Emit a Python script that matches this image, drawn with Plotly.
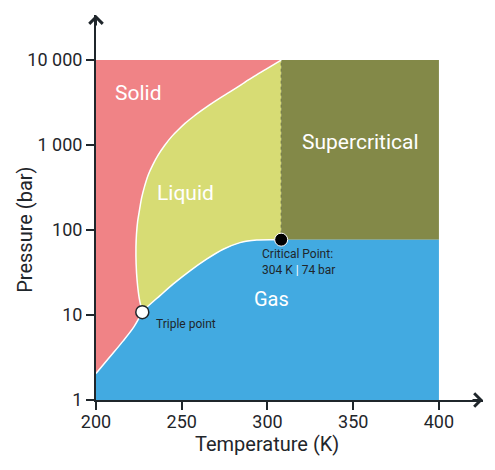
import plotly.graph_objects as go

# phase boundary curves (T in K, P in bar)
sub_T = [200, 208, 216, 222, 227]
sub_P = [2.05, 3.2, 5.0, 7.2, 10.8]

vap_T = [227, 229.6, 237.3, 245.1, 254.8, 264.5, 274.2, 284, 293.7, 303.4, 308]
vap_P = [10.8, 12.3, 16.9, 23.2, 33.1, 45.4, 59.4, 71.1, 76.4, 77, 77]

melt_T = [227.0, 225.2, 224.0, 223.4, 223.3, 223.6, 224.3, 225.4, 226.6, 228.4,
          230.5, 233.2, 236.3, 240.0, 244.1, 248.0, 251.9, 256.5, 260.6, 266,
          272, 278.1, 285, 291.7, 299, 308]
melt_P = [10.8, 15.8, 25.1, 39.8, 63.1, 89.1, 127, 174, 239, 331,
          448, 589, 767, 989, 1256, 1514, 1799, 2138, 2466, 2951,
          3548, 4227, 5188, 6324, 7762, 10000]

triple = (227, 10.8)
critical = (308, 77)
T_min, T_max = 200, 400
P_min, P_max = 1, 10000

y_ticks = [1, 10, 100, 1000, 10000]
y_ticktext = ["1", "10", "100", "1 000", "10 000"]
x_ticks = [200, 250, 300, 350, 400]

SOLID = "#F08386"
LIQUID = "#D7DC74"
SUPER = "#838948"
GAS = "#42AAE1"
INK = "#1f262b"
FONT = "Roboto"

fig = go.Figure()


def region(xs, ys, color):
    fig.add_trace(go.Scatter(x=xs, y=ys, mode="lines", fill="toself",
                             fillcolor=color, line=dict(width=0, color=color),
                             hoverinfo="skip", showlegend=False))


# solid
region([T_min, critical[0]] + melt_T[::-1] + sub_T[::-1],
       [P_max, P_max] + melt_P[::-1] + sub_P[::-1], SOLID)
# liquid
region(melt_T + [critical[0]] + vap_T[::-1],
       melt_P + [critical[1]] + vap_P[::-1], LIQUID)
# supercritical
region([critical[0], T_max, T_max, critical[0]],
       [critical[1], critical[1], P_max, P_max], SUPER)
# gas
region([T_min] + sub_T + vap_T + [T_max, T_max],
       [P_min] + sub_P + vap_P + [critical[1], P_min], GAS)

# white boundary lines
for xs, ys in [(sub_T, sub_P), (vap_T, vap_P), (melt_T, melt_P)]:
    fig.add_trace(go.Scatter(x=xs, y=ys, mode="lines",
                             line=dict(color="white", width=1.5, shape="spline", smoothing=0.8),
                             hoverinfo="skip", showlegend=False))

# dotted border liquid / supercritical
fig.add_trace(go.Scatter(x=[critical[0], critical[0]], y=[critical[1], P_max],
                         mode="lines", line=dict(color="#6c7240", width=1, dash="dot"),
                         hoverinfo="skip", showlegend=False))

# points
fig.add_trace(go.Scatter(x=[triple[0]], y=[triple[1]], mode="markers",
                         marker=dict(size=13, color="white", line=dict(color=INK, width=1.5)),
                         hoverinfo="skip", showlegend=False))
fig.add_trace(go.Scatter(x=[critical[0]], y=[critical[1]], mode="markers",
                         marker=dict(size=13, color="black", line=dict(color="white", width=1)),
                         hoverinfo="skip", showlegend=False))

labels = [
    ("Solid", 224.5, 3.614, 21),
    ("Liquid", 252, 2.433, 21),
    ("Supercritical", 354, 3.04, 21),
    ("Gas", 302.6, 1.19, 20),
]
for text, x, ly, size in labels:
    fig.add_annotation(x=x, y=ly, text=text, showarrow=False,
                       font=dict(family=FONT, size=size, color="white"))

fig.add_annotation(x=295.5, y=1.62, xanchor="left", align="left", showarrow=False,
                   text="Critical Point:<br>304 K <span style='color:white'>|</span> 74 bar",
                   font=dict(family=FONT, size=12, color=INK))
fig.add_annotation(x=233.8, y=0.9, xanchor="left", showarrow=False,
                   text="Triple point", font=dict(family=FONT, size=12, color=INK))

# axis titles
fig.add_annotation(x=300, yref="paper", y=-0.113, yanchor="middle", text="Temperature (K)",
                   showarrow=False, font=dict(family=FONT, size=20, color=INK))
fig.add_annotation(xref="paper", x=-0.184, xanchor="center", y=2.0, yanchor="middle",
                   text="Pressure (bar)", textangle=-90,
                   showarrow=False, font=dict(family=FONT, size=20, color=INK))

# axis arrows
x_end = 425.7
y_end = 4.53
fig.add_annotation(x=x_end, y=0, ax=-12, ay=0, text="", showarrow=True,
                   arrowhead=4, arrowsize=1.3, arrowwidth=2, arrowcolor=INK)
fig.add_annotation(x=200, y=y_end, ax=0, ay=12, text="", showarrow=True,
                   arrowhead=4, arrowsize=1.3, arrowwidth=2, arrowcolor=INK)

fig.update_xaxes(range=[200, x_end], tickvals=x_ticks, showgrid=False, zeroline=False,
                 showline=True, linecolor=INK, linewidth=2, ticks="outside",
                 ticklen=8, tickwidth=2, tickcolor=INK, ticklabelstandoff=-4,
                 tickfont=dict(family=FONT, size=18, color=INK))
fig.update_yaxes(type="log", range=[0, y_end], tickvals=y_ticks, ticktext=y_ticktext,
                 showgrid=False, zeroline=False, showline=True, linecolor=INK,
                 linewidth=2, ticks="outside", ticklen=8, tickwidth=2, tickcolor=INK,
                 tickfont=dict(family=FONT, size=18, color=INK))

fig.update_layout(width=495, height=470, margin=dict(l=96, r=12, t=15, b=70),
                  plot_bgcolor="white", paper_bgcolor="white", showlegend=False)

fig.write_html("out.html", config={"displayModeBar": False},
               post_script="document.body.style.margin='0';")
